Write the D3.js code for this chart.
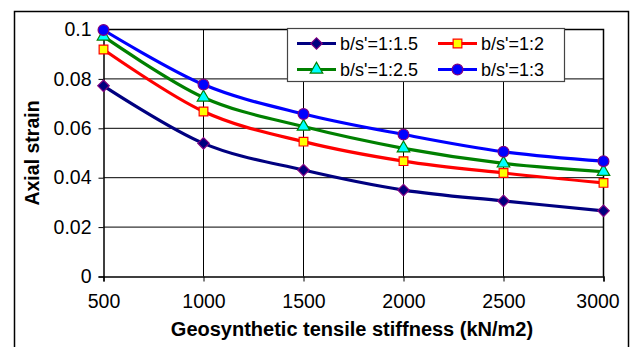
<!DOCTYPE html>
<html>
<head>
<meta charset="utf-8">
<script src="https://cdn.jsdelivr.net/npm/d3@7"></script>
<style>
  body { margin: 0; background: #fff; }
  svg { font-family: "Liberation Sans", Arial, sans-serif; }
</style>
</head>
<body>
<script>
// chart data
var stiffness = [500, 1000, 1500, 2000, 2500, 3000];
var ratio15 = [0.0772, 0.0539, 0.0431, 0.0350, 0.0306, 0.0266];
var ratio2  = [0.0919, 0.0668, 0.0546, 0.0467, 0.0419, 0.0379];
var ratio25 = [0.0972, 0.0725, 0.0607, 0.0519, 0.0458, 0.0424];
var ratio3  = [0.0998, 0.0777, 0.0658, 0.0575, 0.0505, 0.0467];
var seriesNames = ["b/s'=1:1.5", "b/s'=1:2", "b/s'=1:2.5", "b/s'=1:3"];
var yTicks = [0, 0.02, 0.04, 0.06, 0.08, 0.1];
var yTickLabels = ["0", "0.02", "0.04", "0.06", "0.08", "0.1"];

var w = 635, h = 347;

var svg = d3.select("body")
    .append("svg")
    .attr("width", w)
    .attr("height", h);

// outer chart border
svg.append("rect")
    .attr("x", 14.5).attr("y", 11.5)
    .attr("width", 614).attr("height", 360)
    .style("fill", "none").style("stroke", "#000").style("stroke-width", 1.5);

var x = d3.scaleLinear().domain([500, 3000]).range([103.5, 603.5]);
var y = d3.scaleLinear().domain([0, 0.1]).range([276.5, 29.5]);

// grid lines
svg.append("g").selectAll("line.h")
    .data(yTicks.slice(1))
    .enter().append("line")
    .attr("x1", x(500)).attr("x2", x(3000))
    .attr("y1", function(d){ return y(d); })
    .attr("y2", function(d){ return y(d); })
    .style("stroke", "#000").style("stroke-width", 1);

svg.append("g").selectAll("line.v")
    .data(stiffness.slice(1))
    .enter().append("line")
    .attr("x1", function(d){ return x(d); })
    .attr("x2", function(d){ return x(d); })
    .attr("y1", y(0)).attr("y2", y(0.1))
    .style("stroke", "#000").style("stroke-width", 1);

// plot border top/right
svg.append("path")
    .attr("d", "M" + x(500) + "," + y(0.1) + "H" + x(3000) + "V" + y(0))
    .style("fill", "none").style("stroke", "#000").style("stroke-width", 1.5);

// axes
var xAxis = d3.axisBottom(x).tickValues(stiffness).tickSize(5).tickPadding(13)
    .tickFormat(d3.format("d"));
var gx = svg.append("g")
    .attr("transform", "translate(0," + y(0) + ")")
    .call(xAxis);

var yAxis = d3.axisLeft(y).tickValues(yTicks).tickSize(5).tickPadding(7)
    .tickFormat(function(d, i){ return yTickLabels[i]; });
var gy = svg.append("g")
    .attr("transform", "translate(" + x(500) + ",0)")
    .call(yAxis);

[gx, gy].forEach(function(g){
    g.select(".domain").style("stroke", "#000").style("stroke-width", 1.5);
    g.selectAll(".tick line").style("stroke", "#000").style("stroke-width", 1);
    g.selectAll("text")
        .style("font-family", "'Liberation Sans', Arial, sans-serif")
        .style("font-size", "19.5px").style("fill", "#000");
});
gx.selectAll("text").attr("dy", "0.71em");
gx.selectAll(".tick").filter(function(d){ return d === 3000; })
    .select("text").attr("dx", -6);

// axis titles
svg.append("text")
    .attr("x", 352).attr("y", 336)
    .attr("text-anchor", "middle")
    .style("font-size", "20px").style("font-weight", "bold")
    .text("Geosynthetic tensile stiffness (kN/m2)");

svg.append("text")
    .attr("transform", "translate(39,153) rotate(-90)")
    .attr("text-anchor", "middle")
    .style("font-size", "19.5px").style("font-weight", "bold")
    .text("Axial strain");

// series
var styles = [
    {line: "#000080", fill: "#000080", stroke: "#800080", shape: d3.symbolSquare, size: 66, rot: 45},
    {line: "#FF0000", fill: "#FFFF00", stroke: "#FF0000", shape: d3.symbolSquare, size: 76, rot: 0},
    {line: "#008000", fill: "#00FFFF", stroke: "#008000", shape: d3.symbolTriangle, size: 68, rot: 0},
    {line: "#0000FF", fill: "#0000FF", stroke: "#800080", shape: d3.symbolCircle, size: 92, rot: 0}
];
var allSeries = [ratio15, ratio2, ratio25, ratio3];

var line = d3.line()
    .x(function(d, i){ return x(stiffness[i]); })
    .y(function(d){ return y(d); })
    .curve(d3.curveCatmullRom.alpha(0));

allSeries.forEach(function(vals, k){
    svg.append("path")
        .datum(vals)
        .attr("d", line)
        .style("fill", "none")
        .style("stroke", styles[k].line)
        .style("stroke-width", 3.2);
});

allSeries.forEach(function(vals, k){
    var st = styles[k];
    svg.append("g").selectAll("path")
        .data(vals)
        .enter().append("path")
        .attr("d", d3.symbol().type(st.shape).size(st.size))
        .attr("transform", function(d, i){
            return "translate(" + x(stiffness[i]) + "," + y(d) + ") rotate(" + st.rot + ")";
        })
        .style("fill", st.fill)
        .style("stroke", st.stroke)
        .style("stroke-width", 1.2);
});

// legend
var legend = svg.append("g");
legend.append("rect")
    .attr("x", 287.5).attr("y", 28.5)
    .attr("width", 277).attr("height", 53)
    .style("fill", "#fff").style("stroke", "#444").style("stroke-width", 1.2);

var legX = [297, 438], legY = [43.5, 69.5];
seriesNames.forEach(function(name, k){
    var lx = legX[k % 2], ly = legY[Math.floor(k / 2)];
    var st = styles[k];
    legend.append("line")
        .attr("x1", lx).attr("x2", lx + 39)
        .attr("y1", ly).attr("y2", ly)
        .style("stroke", st.line).style("stroke-width", 3.2);
    legend.append("path")
        .attr("d", d3.symbol().type(st.shape).size(st.size))
        .attr("transform", "translate(" + (lx + 19.5) + "," + ly + ") rotate(" + st.rot + ")")
        .style("fill", st.fill).style("stroke", st.stroke).style("stroke-width", 1.2);
    legend.append("text")
        .attr("x", lx + 43).attr("y", ly)
        .attr("dy", "0.35em")
        .style("font-size", "18px")
        .text(name);
});
</script>
</body>
</html>
